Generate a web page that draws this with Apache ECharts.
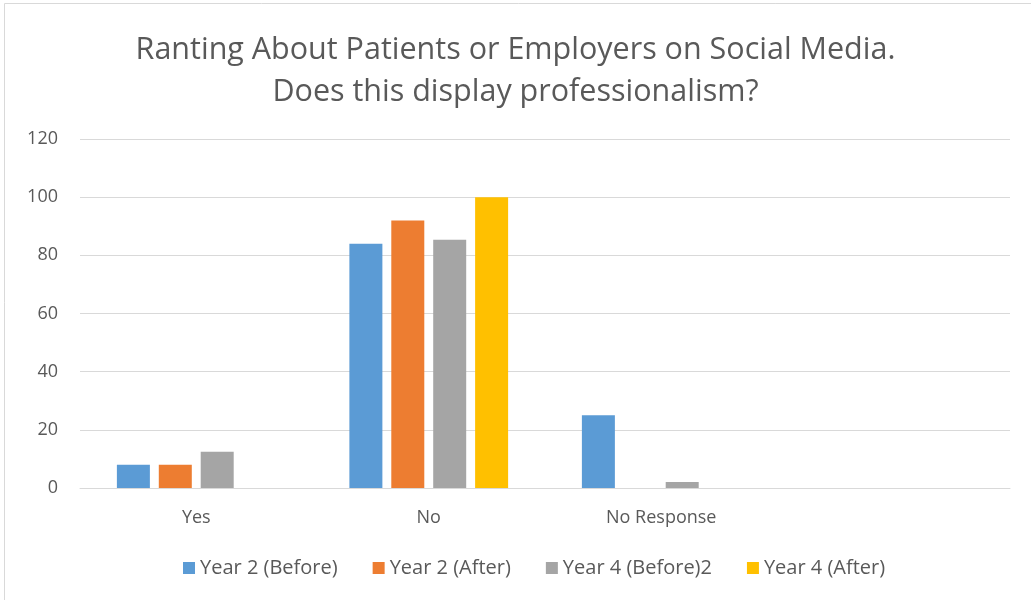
<!DOCTYPE html>
<html lang="en">
<head>
    <meta charset="UTF-8">
    <title>Ranting About Patients or Employers on Social Media</title>
    <style type="text/css">
        *{
            margin: 0;
            padding: 0;
        }
        #main{
            width: 1031px;
            height: 600px;
            position: absolute;
            background: #fff;
        }
    </style>
</head>
<body>
    <div id="main"></div>
    <script src="https://cdn.jsdelivr.net/npm/echarts@6/dist/echarts.min.js"></script>
    <script type="text/javascript">
        // categories (the last one is empty, as in the original)
        var categories = ['Yes', 'No', 'No Response', ''];
        var seriesNames = ['Year 2 (Before)', 'Year 2 (After)', 'Year 4 (Before)2', 'Year 4 (After)'];
        var year2Before = [8, 84, 25, null];
        var year2After = [8, 92, 0, null];
        var year4Before = [12.5, 85.4, 2.1, null];
        var year4After = [0, 100, 0, null];
        var colors = ['#5b9bd5', '#ed7d31', '#a5a5a5', '#ffc000'];

        var fontName = 'Open Sans';
        var myChart = echarts.init(document.getElementById('main'));

        function makeBar(name, values, color) {
            return {
                name: name,
                type: 'bar',
                data: values,
                barWidth: 33,
                barGap: '27%',
                itemStyle: { color: color },
                emphasis: { disabled: true }
            };
        }

        var option = {
            animation: false,
            textStyle: { fontFamily: fontName },
            title: {
                text: 'Ranting About Patients or Employers on Social Media.\nDoes this display professionalism?',
                left: 'center',
                top: 24,
                textStyle: {
                    fontFamily: fontName,
                    fontSize: 30.5,
                    fontWeight: 'normal',
                    color: '#595959',
                    lineHeight: 42
                }
            },
            graphic: [{
                type: 'rect',
                shape: { x: 4.5, y: 3.5, width: 1040, height: 610 },
                style: { fill: 'none', stroke: '#d9d9d9', lineWidth: 1 },
                silent: true
            }],
            legend: {
                bottom: 17,
                left: 178,
                itemWidth: 12,
                itemHeight: 12,
                itemGap: 35,
                icon: 'rect',
                textStyle: { fontFamily: fontName, fontSize: 20, color: '#595959' },
                data: seriesNames
            },
            grid: {
                left: 80,
                right: 21,
                top: 139,
                bottom: 112
            },
            xAxis: {
                type: 'category',
                data: categories,
                axisLine: { lineStyle: { color: '#d9d9d9', width: 1 } },
                axisTick: { show: false },
                axisLabel: { color: '#595959', fontSize: 18, margin: 21, fontFamily: fontName }
            },
            yAxis: {
                type: 'value',
                min: 0,
                max: 120,
                interval: 20,
                axisLine: { show: false },
                axisTick: { show: false },
                splitLine: { lineStyle: { color: '#d9d9d9', width: 1 } },
                axisLabel: { color: '#595959', fontSize: 18, margin: 22, fontFamily: fontName }
            },
            series: [
                makeBar(seriesNames[0], year2Before, colors[0]),
                makeBar(seriesNames[1], year2After, colors[1]),
                makeBar(seriesNames[2], year4Before, colors[2]),
                makeBar(seriesNames[3], year4After, colors[3])
            ]
        };

        myChart.setOption(option);
    </script>
</body>
</html>
